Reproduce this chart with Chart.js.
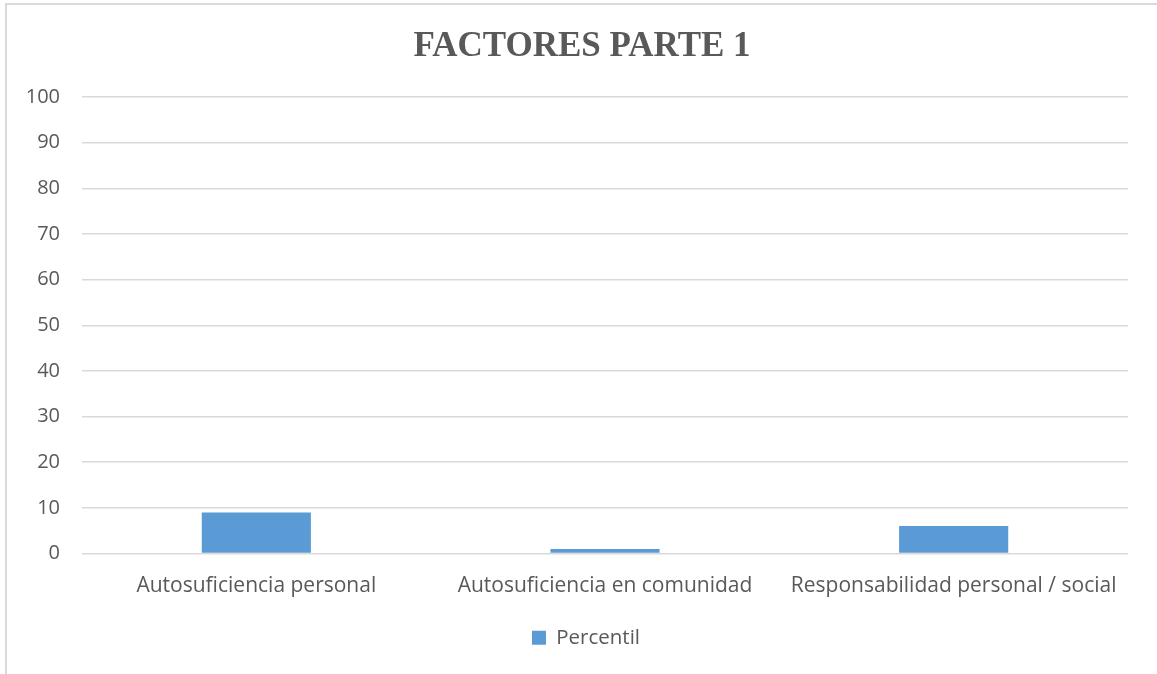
<!DOCTYPE html>
<html>
<head>
<meta charset="utf-8">
<script src="https://cdn.jsdelivr.net/npm/chart.js@4"></script>
<style>
  html, body { margin: 0; padding: 0; background: #fff; overflow: hidden; }
  #frame { position: absolute; left: 5px; top: 3px; width: 1300px; height: 800px; border: 2px solid #d9d9d9; box-sizing: border-box; }
  #wrap { position: absolute; left: 0; top: 0; width: 1157px; height: 674px; }
</style>
</head>
<body>
<div id="frame"></div>
<div id="wrap"><canvas id="c" width="1157" height="674"></canvas></div>
<script>
const categories = ["Autosuficiencia personal", "Autosuficiencia en comunidad", "Responsabilidad personal / social"];
const seriesName = "Percentil";
const percentil = [9, 1, 6];
const yTicks = [0, 10, 20, 30, 40, 50, 60, 70, 80, 90, 100];

const textColor = "#595959";
const fam = "'Open Sans', 'Liberation Sans', sans-serif";

// centre the legend and title as in the original frame (which extends past the canvas)
const blockShift = {
  id: "blockShift",
  afterLayout(chart) {
    const lg = chart.legend;
    const ca = chart.chartArea;
    if (lg) {
      const d = (ca.left + ca.right) / 2 - (lg.left + lg.right) / 2 - 19;
      lg.left += d;
      lg.right += d;
    }
    const tb = chart.titleBlock;
    if (tb) {
      tb.left += 18;
      tb.right += 18;
    }
  }
};

new Chart(document.getElementById("c"), {
  type: "bar",
  data: {
    labels: categories,
    datasets: [{
      label: seriesName,
      data: percentil,
      backgroundColor: "#5b9bd5",
      borderWidth: 0,
      categoryPercentage: 1,
      barPercentage: 0.313
    }]
  },
  plugins: [blockShift],
  options: {
    responsive: false,
    animation: false,
    devicePixelRatio: 1,
    layout: { padding: { left: 0, right: 29, top: 0, bottom: 16 } },
    plugins: {
      title: {
        display: true,
        text: "FACTORES PARTE 1",
        color: textColor,
        font: { family: "'Liberation Serif', 'Times New Roman', serif", size: 35, weight: "bold" },
        padding: { top: 26, bottom: 29 }
      },
      legend: {
        display: true,
        position: "bottom",
        labels: {
          color: textColor,
          font: { family: fam, size: 20.5 },
          boxWidth: 14,
          boxHeight: 14,
          padding: 4
        }
      },
      tooltip: { enabled: false }
    },
    scales: {
      x: {
        afterFit: s => { s.height = 70; },
        grid: { display: false },
        border: { display: false },
        ticks: { color: textColor, font: { family: fam, size: 21 }, padding: 12, maxRotation: 0, autoSkip: false }
      },
      y: {
        min: 0,
        max: 100,
        afterFit: s => { s.width = 82; },
        afterBuildTicks: s => { s.ticks = yTicks.map(v => ({ value: v })); },
        grid: { color: "#d9d9d9", lineWidth: 1.5, drawTicks: false },
        border: { display: false },
        ticks: { color: textColor, font: { family: fam, size: 20 }, padding: 22 }
      }
    }
  }
});
</script>
</body>
</html>
